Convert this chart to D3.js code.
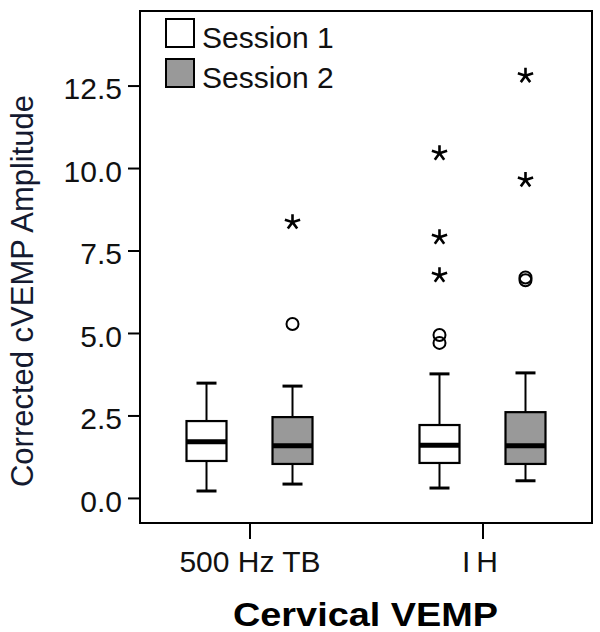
<!DOCTYPE html>
<html>
<head>
<meta charset="utf-8">
<script src="https://cdn.jsdelivr.net/npm/d3@7"></script>
<style>
  html, body { margin: 0; padding: 0; background: #fff; }
  svg { display: block; font-family: "Liberation Sans", Arial, sans-serif; }
</style>
</head>
<body>
<svg id="chart" width="600" height="632"></svg>
<script>
// ---- data ----
const categories = ["500 Hz TB", "IH"];
const sessions = ["Session 1", "Session 2"];
const sessionColors = ["#ffffff", "#999999"];
// box stats per category, per session: [low whisker, Q1, median, Q3, high whisker]
const session1Stats = [
  [0.21, 1.12, 1.70, 2.33, 3.48],
  [0.30, 1.06, 1.60, 2.21, 3.76]
];
const session2Stats = [
  [0.42, 1.03, 1.58, 2.45, 3.39],
  [0.52, 1.03, 1.58, 2.60, 3.79]
];
// outliers (circles) and extremes (asterisks)
const session1Outliers = [[], [4.94, 4.70]];
const session2Outliers = [[5.27], [6.60, 6.68]];
const session1Extremes = [[], [10.45, 7.90, 6.75]];
const session2Extremes = [[8.36], [12.80, 9.64]];
const yTicks = [0.0, 2.5, 5.0, 7.5, 10.0, 12.5];

// ---- layout ----
const svg = d3.select("#chart");
const pLeft = 140, pRight = 592, pTop = 11, pBottom = 523;

const y = d3.scaleLinear().domain([-0.76, 14.76]).range([pBottom, pTop]);
const x = d3.scalePoint().domain(categories).range([pLeft, pRight]).padding(0.47);
const xs = d3.scalePoint().domain(sessions).range([-43, 43]);

// frame
svg.append("rect")
  .attr("x", pLeft).attr("y", pTop)
  .attr("width", pRight - pLeft).attr("height", pBottom - pTop)
  .attr("fill", "none").attr("stroke", "#000").attr("stroke-width", 2);

// y axis
const yAxis = d3.axisLeft(y).tickValues(yTicks).tickSize(12).tickPadding(6)
  .tickFormat(d3.format(".1f"));
const gy = svg.append("g").attr("transform", `translate(${pLeft},0)`).call(yAxis);
gy.select(".domain").remove();
gy.selectAll(".tick line").attr("stroke", "#000").attr("stroke-width", 2);
gy.selectAll(".tick text")
  .attr("font-family", "'Liberation Sans', Arial, sans-serif")
  .attr("font-size", 30).attr("fill", "#111")
  .attr("dy", "0.44em");

// x axis
const xAxis = d3.axisBottom(x).tickSize(16).tickPadding(10);
const gx = svg.append("g").attr("transform", `translate(0,${pBottom})`).call(xAxis);
gx.select(".domain").remove();
gx.selectAll(".tick line").attr("stroke", "#000").attr("stroke-width", 2);
gx.selectAll(".tick text")
  .attr("font-family", "'Liberation Sans', Arial, sans-serif")
  .attr("font-size", 30).attr("fill", "#111")
  .attr("dy", "0.75em")
  .attr("letter-spacing", d => d === "IH" ? 6 : 0);

// axis titles
svg.append("text")
  .attr("transform", `translate(33,${(95 + 487) / 2}) rotate(-90)`)
  .attr("text-anchor", "middle")
  .attr("font-size", 31)
  .attr("textLength", 392).attr("lengthAdjust", "spacingAndGlyphs")
  .attr("fill", "#141a30")
  .text("Corrected cVEMP Amplitude");

svg.append("text")
  .attr("x", 365.5).attr("y", 626)
  .attr("text-anchor", "middle")
  .attr("font-size", 33).attr("font-weight", "bold")
  .attr("textLength", 265).attr("lengthAdjust", "spacingAndGlyphs")
  .attr("fill", "#000")
  .text("Cervical VEMP");

// boxes
const allStats = [session1Stats, session2Stats];
const allOut = [session1Outliers, session2Outliers];
const allExt = [session1Extremes, session2Extremes];
const boxW = 40, capW = 20;

function asteriskPath(r) {
  let p = "";
  for (let k = 0; k < 5; k++) {
    const a = -Math.PI / 2 + k * 2 * Math.PI / 5;
    p += `M0,0L${(r * Math.cos(a)).toFixed(2)},${(r * Math.sin(a)).toFixed(2)}`;
  }
  return p;
}

sessions.forEach((s, si) => {
  categories.forEach((c, ci) => {
    const [lo, q1, med, q3, hi] = allStats[si][ci];
    const cx = x(c) + xs(s);
    const g = svg.append("g");
    // whiskers
    g.append("line").attr("x1", cx).attr("x2", cx).attr("y1", y(hi)).attr("y2", y(q3))
      .attr("stroke", "#000").attr("stroke-width", 2);
    g.append("line").attr("x1", cx).attr("x2", cx).attr("y1", y(q1)).attr("y2", y(lo))
      .attr("stroke", "#000").attr("stroke-width", 2);
    [hi, lo].forEach(v => {
      g.append("line").attr("x1", cx - capW / 2).attr("x2", cx + capW / 2)
        .attr("y1", y(v)).attr("y2", y(v))
        .attr("stroke", "#000").attr("stroke-width", 3);
    });
    // box
    g.append("rect").attr("x", cx - boxW / 2).attr("y", y(q3))
      .attr("width", boxW).attr("height", y(q1) - y(q3))
      .attr("fill", sessionColors[si]).attr("stroke", "#000").attr("stroke-width", 2.2);
    // median
    g.append("line").attr("x1", cx - boxW / 2).attr("x2", cx + boxW / 2)
      .attr("y1", y(med)).attr("y2", y(med))
      .attr("stroke", "#000").attr("stroke-width", 5);
    // outliers
    allOut[si][ci].forEach(v => {
      g.append("circle").attr("cx", cx).attr("cy", y(v)).attr("r", 6)
        .attr("fill", "none").attr("stroke", "#000").attr("stroke-width", 2);
    });
    // extremes
    allExt[si][ci].forEach(v => {
      g.append("path").attr("d", asteriskPath(8))
        .attr("transform", `translate(${cx},${y(v)})`)
        .attr("fill", "none").attr("stroke", "#000").attr("stroke-width", 2.6)
        .attr("stroke-linecap", "butt");
    });
  });
});

// legend
const legend = svg.append("g");
sessions.forEach((s, i) => {
  const ly = [19, 59][i];
  legend.append("rect").attr("x", 166).attr("y", ly).attr("width", 28).attr("height", 28)
    .attr("fill", sessionColors[i]).attr("stroke", "#000").attr("stroke-width", 2);
  legend.append("text").attr("x", 202).attr("y", ly + 29)
    .attr("font-size", 30).attr("fill", "#111").text(s);
});
</script>
</body>
</html>
